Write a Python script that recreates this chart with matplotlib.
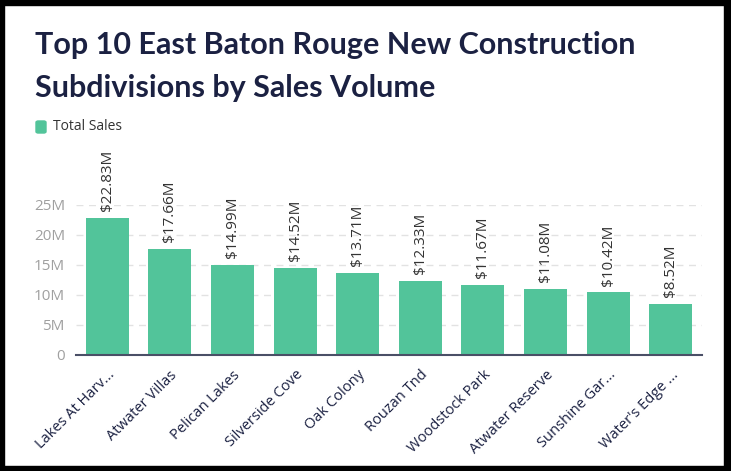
"""Top 10 East Baton Rouge new construction subdivisions by sales volume."""

import matplotlib

matplotlib.use("Agg")
import matplotlib.pyplot as plt  # noqa: E402
from matplotlib.patches import FancyBboxPatch, Rectangle  # noqa: E402

subdivisions = [
    "Lakes At Harv...",
    "Atwater Villas",
    "Pelican Lakes",
    "Silverside Cove",
    "Oak Colony",
    "Rouzan Tnd",
    "Woodstock Park",
    "Atwater Reserve",
    "Sunshine Gar...",
    "Water's Edge ...",
]
total_sales_m = [22.83, 17.66, 14.99, 14.52, 13.71, 12.33, 11.67, 11.08, 10.42, 8.52]
y_ticks = [0, 5, 10, 15, 20, 25]
y_tick_labels = ["0", "5M", "10M", "15M", "20M", "25M"]

BAR_COLOR = "#52c49a"
NAVY = "#1b2142"

W, H = 731, 471
fig = plt.figure(figsize=(W / 100, H / 100), dpi=100)
fig.patch.set_facecolor("white")

# axes placed in pixel terms: x 76..702, y 205 (25M) .. 355 (0)
ax = fig.add_axes([76 / W, (H - 355) / H, (702 - 76) / W, 150 / H])
x = range(len(subdivisions))
ax.bar(x, total_sales_m, width=0.69, color=BAR_COLOR, zorder=3)
ax.set_xlim(-0.5, len(subdivisions) - 0.5)
ax.set_ylim(0, 25)

for i, v in enumerate(total_sales_m):
    ax.text(i, v + 1.1, f"${v:.2f}M", rotation=90, ha="center", va="bottom",
            fontsize=11, color="#333333", family="Open Sans", clip_on=False)

ax.set_yticks(y_ticks)
ax.set_yticklabels(y_tick_labels, fontsize=11, color="#a0a0a0", family="Open Sans")
ax.set_xticks(list(x))
ax.set_xticklabels(subdivisions, rotation=45, ha="right", rotation_mode="anchor",
                   fontsize=10.5, color=NAVY, family="Open Sans")
ax.tick_params(axis="both", length=0)
ax.tick_params(axis="y", pad=8)
ax.tick_params(axis="x", pad=9)
ax.grid(axis="y", color="#e2e2e2", linestyle=(0, (5, 4)), linewidth=1, zorder=0)
for side in ["top", "right", "left"]:
    ax.spines[side].set_visible(False)
ax.spines["bottom"].set_color("#4a4f66")
ax.spines["bottom"].set_linewidth(1.5)
ax.spines["bottom"].set_zorder(4)

fig.text(35 / W, 1 - 45 / H, "Top 10 East Baton Rouge New Construction",
         fontsize=22, fontweight="bold", color=NAVY, family="Lato", va="center")
fig.text(35 / W, 1 - 88 / H, "Subdivisions by Sales Volume",
         fontsize=22, fontweight="bold", color=NAVY, family="Lato", va="center")

# legend
fig.patches.append(FancyBboxPatch((36 / W, 1 - 133 / H), 10 / W, 12 / H,
                                  boxstyle="round,pad=0,rounding_size=0.003",
                                  transform=fig.transFigure, color=BAR_COLOR))
fig.text(53 / W, 1 - 127 / H, "Total Sales", fontsize=10, color="#333333",
         family="Open Sans", va="center")

# black frame around the image
for rect in [(0, 0, 1, 5 / H), (0, 1 - 5 / H, 1, 5 / H),
             (0, 0, 4 / W, 1), (1 - 7 / W, 0, 7 / W, 1)]:
    fig.patches.append(Rectangle(rect[:2], rect[2], rect[3],
                                 transform=fig.transFigure, color="black"))

fig.savefig("out.png", dpi=100)
